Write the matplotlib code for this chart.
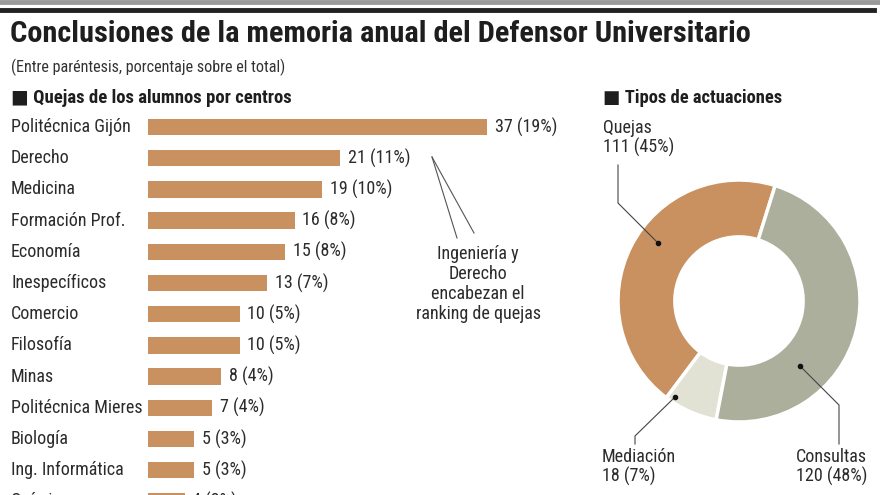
import matplotlib
matplotlib.use("Agg")
import matplotlib.pyplot as plt
from matplotlib import font_manager
from matplotlib.transforms import blended_transform_factory
from matplotlib.lines import Line2D

_names = {f.name for f in font_manager.fontManager.ttflist}
_cands = ["Liberation Sans Narrow", "Roboto Condensed", "Open Sans Condensed",
          "Noto Sans Condensed", "DejaVu Sans Condensed"]
_pick = [c for c in _cands if c in _names]
if _pick:
    plt.rcParams['font.family'] = [_pick[0], 'DejaVu Sans']
else:
    plt.rcParams['font.family'] = ['DejaVu Sans']
    plt.rcParams['font.stretch'] = 'condensed'

# ---- data ----
title = "Conclusiones de la memoria anual del Defensor Universitario"
subtitle = "(Entre paréntesis, porcentaje sobre el total)"
bar_header = "Quejas de los alumnos por centros"
pie_header = "Tipos de actuaciones"
centros = ["Politécnica Gijón", "Derecho", "Medicina", "Formación Prof.", "Economía",
           "Inespecíficos", "Comercio", "Filosofía", "Minas", "Politécnica Mieres",
           "Biología", "Ing. Informática", "Química"]
quejas = [37, 21, 19, 16, 15, 13, 10, 10, 8, 7, 5, 5, 4]
quejas_pct = [19, 11, 10, 8, 8, 7, 5, 5, 4, 4, 3, 3, 2]
tipos = ["Quejas", "Mediación", "Consultas"]
tipos_val = [111, 18, 120]
tipos_pct = [45, 7, 48]
note = "Ingeniería y\nDerecho\nencabezan el\nranking de quejas"

BAR = "#C8915F"
COLS = ["#C8915F", "#E1E2D4", "#ABAF9C"]
TXT = "#2b2b2b"
FS = 13

W, H = 880, 495
fig = plt.figure(figsize=(W / 100, H / 100), dpi=100)
fig.patch.set_facecolor("white")

def fx(px):
    return px / W

def fy(py):
    return 1 - py / H

ov = fig.add_axes([0, 0, 1, 1], zorder=5)
ov.set_xlim(0, W)
ov.set_ylim(H, 0)
ov.axis("off")
ov.patch.set_alpha(0)

ov.add_line(Line2D([0, W], [1.5, 1.5], color="#9a9a9a", lw=3.5))
ov.add_line(Line2D([0, 874], [10, 10], color="#222222", lw=3.5))

ov.text(10, 34, title, fontsize=21.9, fontweight="bold", color="#1e1e1e", va="center", ha="left")
ov.text(11, 67, subtitle, fontsize=11.6, color="#333333", va="center", ha="left")
ov.text(11, 98, "■ " + bar_header, fontsize=13.5, fontweight="bold", color="#1e1e1e", va="center", ha="left")
ov.text(603, 98, "■ " + pie_header, fontsize=13.3, fontweight="bold", color="#1e1e1e", va="center", ha="left")

# ---- bar chart ----
n = len(centros)
row0, step = 127, 31.2
top_px = row0 - step / 2
bot_px = row0 + step * (n - 0.5)
x0_px, unit_px = 148, 9.16
xmax = 40
ax = fig.add_axes([fx(x0_px), fy(bot_px), unit_px * xmax / W, (bot_px - top_px) / H])
ax.set_xlim(0, xmax)
ax.set_ylim(n - 0.5, -0.5)
ax.axis("off")
ypos = list(range(n))
ax.barh(ypos, quejas, height=0.52, color=BAR, edgecolor="none")
tr = blended_transform_factory(fig.transFigure, ax.transData)
for i, (c, v, p) in enumerate(zip(centros, quejas, quejas_pct)):
    ax.text(fx(11), i, c, transform=tr, fontsize=FS, color=TXT, va="center", ha="left", clip_on=False)
    ax.text(v + 0.85, i, f"{v} ({p}%)", fontsize=FS, color=TXT, va="center", ha="left", clip_on=False)

ov.text(478, 284, note, fontsize=FS, color=TXT, ha="center", va="center", linespacing=1.13)
ov.add_line(Line2D([432, 457], [157, 238], color="#555555", lw=0.8))
ov.add_line(Line2D([432, 474], [157, 233], color="#555555", lw=0.8))

# ---- donut ----
cx, cy, r = 739, 301, 121
pax = fig.add_axes([fx(cx - r), fy(cy + r), 2 * r / W, 2 * r / H])
pax.pie(tipos_val, colors=COLS, startangle=72.6, counterclock=True, radius=1,
        wedgeprops=dict(width=0.47, edgecolor="white", linewidth=2.5))
pax.set_xlim(-1, 1)
pax.set_ylim(-1, 1)
pax.set_aspect("equal")

ov.text(603, 138, f"{tipos[0]}\n{tipos_val[0]} ({tipos_pct[0]}%)", fontsize=FS, color=TXT,
        ha="left", va="center", linespacing=1.1)
ov.text(602, 467, f"{tipos[1]}\n{tipos_val[1]} ({tipos_pct[1]}%)", fontsize=FS, color=TXT,
        ha="left", va="center", linespacing=1.1)
ov.text(867, 467, f"{tipos[2]}\n{tipos_val[2]} ({tipos_pct[2]}%)", fontsize=FS, color=TXT,
        ha="right", va="center", linespacing=1.1)

lc = "#444444"
ov.add_line(Line2D([618, 618, 658], [165, 203, 243], color=lc, lw=0.8))
ov.plot([658], [243], "o", color="#111111", ms=3)
ov.add_line(Line2D([635, 635, 675], [444, 436, 397], color=lc, lw=0.8))
ov.plot([675], [397], "o", color="#111111", ms=3)
ov.add_line(Line2D([839, 839, 800], [444, 405, 366], color=lc, lw=0.8))
ov.plot([800], [366], "o", color="#111111", ms=3)

fig.savefig("out.png", dpi=100, facecolor="white")
